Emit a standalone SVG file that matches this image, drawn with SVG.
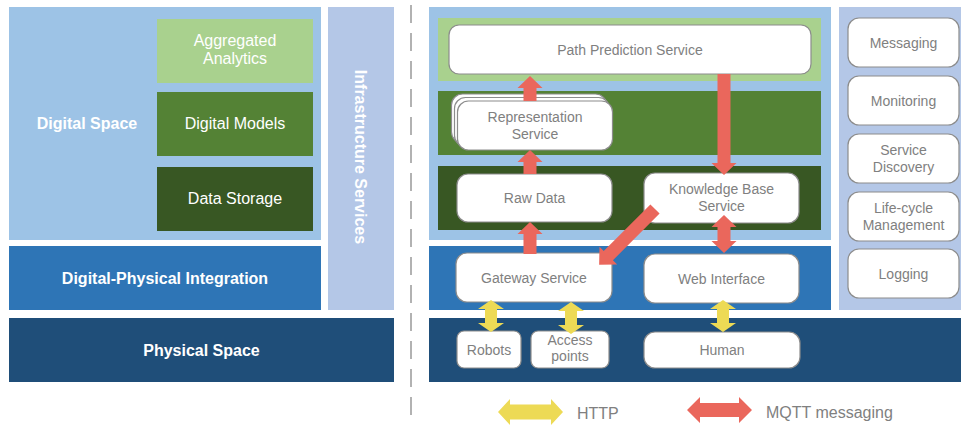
<svg xmlns="http://www.w3.org/2000/svg" width="961" height="426" viewBox="0 0 961 426">
<style>
  .lbl { font-family: "Liberation Sans", Arial, sans-serif; fill: #ffffff; text-anchor: middle; font-size: 16px; }
  .b { font-weight: bold; }
  .nd { fill: #ffffff; stroke: #8c8c8c; stroke-width: 1.2; }
  .nt { font-family: "Liberation Sans", Arial, sans-serif; fill: #808080; text-anchor: middle; font-size: 14px; }
  .lg { font-family: "Liberation Sans", Arial, sans-serif; fill: #808080; font-size: 16px; }
  .red { fill: #EA675C; }
  .yel { fill: #EDDA55; }
</style>
<rect x="0" y="0" width="961" height="426" fill="#ffffff"/>

<!-- Left: layered overview -->
<g id="digital-space">
  <rect x="9" y="7" width="312" height="233" fill="#9DC3E6"/>
  <text class="lbl b" x="87" y="129">Digital Space</text>
</g>
<g id="aggregated-analytics">
  <rect x="157" y="19" width="156" height="64" fill="#A9D18E"/>
  <text class="lbl" x="235" y="46">Aggregated</text>
  <text class="lbl" x="235" y="64">Analytics</text>
</g>
<g id="digital-models">
  <rect x="157" y="92" width="156" height="64" fill="#548235"/>
  <text class="lbl" x="235" y="129">Digital Models</text>
</g>
<g id="data-storage">
  <rect x="157" y="167" width="156" height="64" fill="#385723"/>
  <text class="lbl" x="235" y="204">Data Storage</text>
</g>
<g id="digital-physical-integration">
  <rect x="9" y="246" width="312" height="64" fill="#2E75B6"/>
  <text class="lbl b" x="165" y="284">Digital-Physical Integration</text>
</g>
<g id="infrastructure-services">
  <rect x="328" y="7" width="66" height="303" fill="#B4C7E7"/>
  <text class="lbl b" transform="translate(355,157) rotate(90)" x="0" y="0">Infrastructure Services</text>
</g>
<g id="physical-space">
  <rect x="9" y="318" width="385" height="64" fill="#1F4E79"/>
  <text class="lbl b" x="201.5" y="356">Physical Space</text>
</g>

<line x1="411" y1="5" x2="411" y2="418" stroke="#999999" stroke-width="1.5" stroke-dasharray="18 10"/>

<!-- Right: bands -->
<g id="bands">
  <rect x="429" y="7" width="402" height="233" fill="#9DC3E6"/>
  <rect x="438" y="18" width="383" height="63" fill="#A9D18E"/>
  <rect x="438" y="91" width="383" height="64" fill="#548235"/>
  <rect x="438" y="166" width="383" height="64" fill="#385723"/>
  <rect x="429" y="246" width="402" height="64" fill="#2E75B6"/>
  <rect x="839" y="7" width="122" height="303" fill="#B4C7E7"/>
  <rect x="429" y="318" width="532" height="64" fill="#1F4E79"/>
</g>

<!-- Right: nodes -->
<g id="path-prediction">
  <rect class="nd" x="449" y="25" width="362" height="49" rx="10"/>
  <text class="nt" x="630" y="54.5">Path Prediction Service</text>
</g>
<g id="representation-service">
  <rect class="nd" x="451.5" y="94" width="155" height="49" rx="11"/>
  <rect class="nd" x="454.5" y="97.5" width="155" height="49" rx="11"/>
  <rect class="nd" x="457.5" y="101" width="155" height="49" rx="11"/>
  <text class="nt" x="535" y="122">Representation</text>
  <text class="nt" x="535" y="139">Service</text>
</g>
<g id="raw-data">
  <rect class="nd" x="457" y="174" width="155" height="48" rx="11"/>
  <text class="nt" x="534.5" y="203">Raw Data</text>
</g>
<g id="knowledge-base">
  <rect class="nd" x="644" y="173" width="155" height="50" rx="11"/>
  <text class="nt" x="721.5" y="194">Knowledge Base</text>
  <text class="nt" x="721.5" y="211">Service</text>
</g>
<g id="gateway-service">
  <rect class="nd" x="456" y="253" width="156" height="49" rx="11"/>
  <text class="nt" x="534" y="282.5">Gateway Service</text>
</g>
<g id="web-interface">
  <rect class="nd" x="644" y="254" width="155" height="49" rx="11"/>
  <text class="nt" x="721.5" y="283.5">Web Interface</text>
</g>
<g id="robots">
  <rect class="nd" x="457" y="331" width="64" height="37" rx="7"/>
  <text class="nt" x="489" y="354.5">Robots</text>
</g>
<g id="access-points">
  <rect class="nd" x="531" y="331" width="78" height="37" rx="7"/>
  <text class="nt" x="570" y="345">Access</text>
  <text class="nt" x="570" y="361">points</text>
</g>
<g id="human">
  <rect class="nd" x="644" y="332" width="156" height="36" rx="11"/>
  <text class="nt" x="722" y="355">Human</text>
</g>
<g id="messaging">
  <rect class="nd" x="848" y="18" width="111" height="49" rx="11"/>
  <text class="nt" x="903.5" y="47.5">Messaging</text>
</g>
<g id="monitoring">
  <rect class="nd" x="848" y="76" width="111" height="49" rx="11"/>
  <text class="nt" x="903.5" y="105.5">Monitoring</text>
</g>
<g id="service-discovery">
  <rect class="nd" x="848" y="134" width="111" height="49" rx="11"/>
  <text class="nt" x="903.5" y="155">Service</text>
  <text class="nt" x="903.5" y="172">Discovery</text>
</g>
<g id="lifecycle-management">
  <rect class="nd" x="848" y="192" width="111" height="49" rx="11"/>
  <text class="nt" x="903.5" y="213">Life-cycle</text>
  <text class="nt" x="903.5" y="230">Management</text>
</g>
<g id="logging">
  <rect class="nd" x="848" y="249" width="111" height="49" rx="11"/>
  <text class="nt" x="903.5" y="278.5">Logging</text>
</g>

<!-- Connectors -->
<g id="connectors">
  <!-- Representation -> Path Prediction -->
  <polygon class="red" points="530,76 542.5,88 536.5,88 536.5,101 523.5,101 523.5,88 517.5,88"/>
  <!-- Raw Data -> Representation -->
  <polygon class="red" points="530,150 542.5,162 536.5,162 536.5,174 523.5,174 523.5,162 517.5,162"/>
  <!-- Gateway -> Raw Data -->
  <polygon class="red" points="530,222 542.5,234 536.5,234 536.5,254 523.5,254 523.5,234 517.5,234"/>
  <!-- Path Prediction -> Knowledge Base -->
  <polygon class="red" points="724,175 736.5,163 730.5,163 730.5,74 717.5,74 717.5,163 711.5,163"/>
  <!-- Knowledge Base <-> Web Interface -->
  <polygon class="red" points="724,215 736.5,227 730.5,227 730.5,241 736.5,241 724,253 711.5,241 717.5,241 717.5,227 711.5,227"/>
  <!-- Knowledge Base -> Gateway (diagonal) -->
  <polygon class="red" transform="translate(655,209) rotate(135)" points="0,-6.5 66,-6.5 66,-12.5 79,0 66,12.5 66,6.5 0,6.5"/>
  <!-- HTTP: Gateway <-> Robots -->
  <polygon class="yel" points="491,300 504,309 497,309 497,323 504,323 491,332 478,323 485,323 485,309 478,309"/>
  <!-- HTTP: Gateway <-> Access points -->
  <polygon class="yel" points="571,302 584,311 577,311 577,325 584,325 571,334 558,325 565,325 565,311 558,311"/>
  <!-- HTTP: Web Interface <-> Human -->
  <polygon class="yel" points="723,300 736,309 729,309 729,323 736,323 723,332 710,323 717,323 717,309 710,309"/>
</g>

<!-- Legend -->
<g id="legend">
  <polygon class="yel" points="498,412 510,399 510,404.5 551,404.5 551,399 563,412 551,425 551,419.5 510,419.5 510,425"/>
  <text class="lg" x="577" y="419">HTTP</text>
  <polygon class="red" points="687,410 700,397 700,403 739,403 739,397 752,410 739,423 739,417 700,417 700,423"/>
  <text class="lg" x="766" y="418">MQTT messaging</text>
</g>
</svg>
